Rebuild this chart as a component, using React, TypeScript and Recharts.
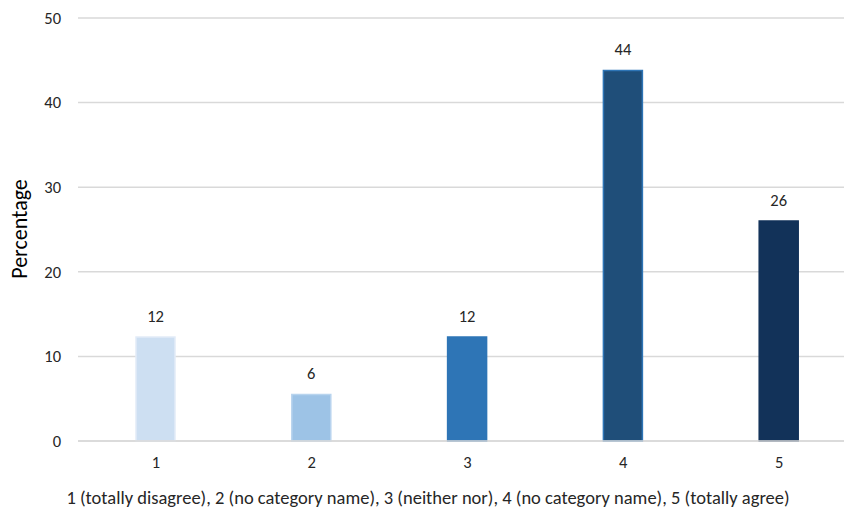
import React from 'react';
import { BarChart, Bar, XAxis, YAxis, CartesianGrid, Cell, LabelList } from 'recharts';

const categories = ['1', '2', '3', '4', '5'];
const percentages = [12.3, 5.5, 12.3, 43.8, 26.0];
const yTicks = [0, 10, 20, 30, 40, 50];

const FILLS = ['#cddff2', '#9dc3e6', '#2e75b6', '#1f4e79', '#123259'];
const STROKES = ['#e2ecf8', '#b8d4ee', '#2e75b6', '#2e75b6', '#123259'];

const FONT = 'Carlito, Calibri, Lato, "Open Sans", sans-serif';
const TEXT = '#262626';

const data = categories.map((c, i) => ({ name: c, value: percentages[i] }));

export default function App() {
  return (
    <div style={{ position: 'absolute', top: 0, left: 0, width: 844, height: 513, overflow: 'hidden', background: '#fff', fontFamily: FONT }}>
      <BarChart width={857} height={513} data={data} margin={{ top: 18, right: 0, left: 0, bottom: 0 }}>
        <CartesianGrid vertical={false} stroke="#d9d9d9" strokeWidth={1.5} />
        <XAxis
          dataKey="name"
          height={72}
          tickLine={false}
          axisLine={{ stroke: '#d9d9d9', strokeWidth: 1.5 }}
          tickSize={0}
          tickMargin={15}
          tick={{ fill: TEXT, fontSize: 16.5, fontFamily: FONT }}
          label={{
            content: () => (
              <text x={428} y={504} textAnchor="middle" fill={TEXT} fontSize={18.5} fontFamily={FONT}>
                1 (totally disagree), 2 (no category name), 3 (neither nor), 4 (no category name), 5 (totally agree)
              </text>
            ),
          }}
        />
        <YAxis
          width={78}
          domain={[0, 50]}
          ticks={yTicks}
          axisLine={false}
          tickLine={false}
          tickSize={0}
          tickMargin={17}
          tick={{ fill: TEXT, fontSize: 16.5, fontFamily: FONT }}
          label={{
            content: () => (
              <text x={27} y={229} textAnchor="middle" fill="#000" fontSize={22} fontFamily={FONT} transform="rotate(-90 27 229)">
                Percentage
              </text>
            ),
          }}
        />
        <Bar dataKey="value" barSize={39} strokeWidth={1.5} isAnimationActive={false}>
          {data.map((d, i) => (
            <Cell key={d.name} fill={FILLS[i]} stroke={STROKES[i]} />
          ))}
          <LabelList
            dataKey="value"
            position="top"
            offset={15}
            formatter={(v: number) => Math.round(v)}
            style={{ fill: TEXT, fontSize: 16.5, fontFamily: FONT }}
          />
        </Bar>
      </BarChart>
    </div>
  );
}
